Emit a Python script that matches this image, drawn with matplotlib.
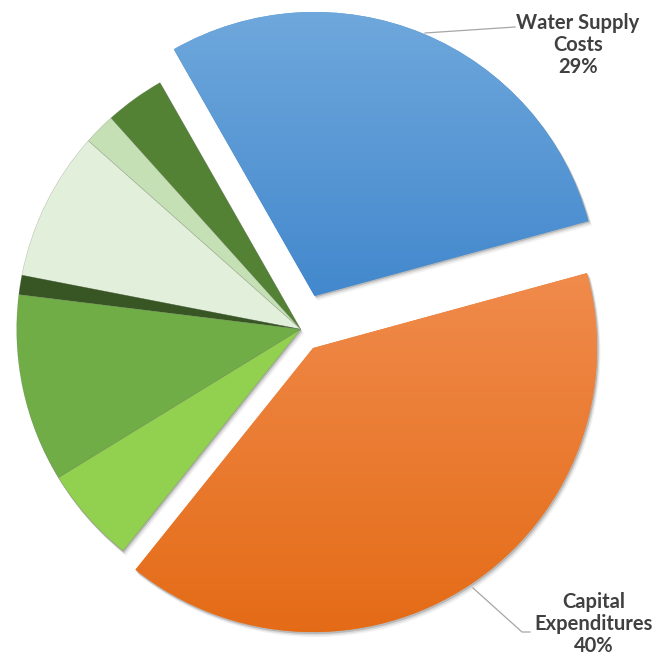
import numpy as np
import matplotlib.pyplot as plt
from matplotlib.patches import Wedge
from matplotlib.colors import LinearSegmentedColormap

# Cost breakdown (percent of total)
categories = ["Water Supply Costs", "Other 1", "Other 2", "Other 3",
              "Other 4", "Other 5", "Other 6", "Capital Expenditures"]
shares = [29, 3.4, 1.8, 8.5, 1.1, 10.7, 5.5, 40]
slice_colors = ["#5b9bd5", "#548235", "#c5e0b4", "#e2efda",
                "#375623", "#70ad47", "#92d050", "#ed7d31"]
explode = [0.127, 0, 0, 0, 0, 0, 0, 0.079]   # fraction of the radius
labelled = {0: "Water Supply\nCosts\n29%", 7: "Capital\nExpenditures\n40%"}

W, H = 666, 656
fig = plt.figure(figsize=(W / 100, H / 100), dpi=100)
ax = fig.add_axes([0, 0, 1, 1])

cx, cy, R = 300.7, H - 329.3, 284

wedges, _ = ax.pie(shares, colors=slice_colors,
                   explode=[e * R for e in explode],
                   startangle=15.3, counterclock=True,
                   center=(cx, cy), radius=R, frame=True,
                   wedgeprops=dict(linewidth=0.4, edgecolor=(0.35, 0.4, 0.3, 0.35)))
ax.set_xlim(0, W)
ax.set_ylim(0, H)
ax.set_aspect("equal")
ax.axis("off")

# soft drop shadow beneath each group of slices
groups = [(wedges[0].center, wedges[0].theta1, wedges[0].theta2),
          (wedges[1].center, wedges[1].theta1, wedges[6].theta2),
          (wedges[7].center, wedges[7].theta1, wedges[7].theta2)]
for (c, t1, t2) in groups:
    for off, a in [((1.0, -1.5), 0.16), ((2.0, -3.0), 0.09), ((3.0, -4.5), 0.05)]:
        sh = Wedge((c[0] + off[0], c[1] + off[1]), R + 0.5, t1, t2,
                   facecolor="black", alpha=a, linewidth=0, zorder=0)
        ax.add_patch(sh)

# vertical colour gradients on the two highlighted slices
grads = {0: ("#6fa8dc", "#4388cd"), 7: ("#f08b4c", "#e46b16")}
for i, (top, bottom) in grads.items():
    w = wedges[i]
    verts = w.get_path().vertices
    x0, x1 = verts[:, 0].min(), verts[:, 0].max()
    y0, y1 = verts[:, 1].min(), verts[:, 1].max()
    cmap = LinearSegmentedColormap.from_list("g%d" % i, [bottom, top])
    grad = np.linspace(0, 1, 256).reshape(-1, 1)
    im = ax.imshow(grad, cmap=cmap, extent=(x0, x1, y0, y1), origin="lower",
                   aspect="auto", zorder=w.get_zorder() + 0.1)
    im.set_clip_path(w)
    w.set_edgecolor("none")
ax.set_xlim(0, W)
ax.set_ylim(0, H)

txt = dict(fontsize=14.5, fontweight="bold", color="#404040", family="Lato",
           ha="center", va="center", linespacing=1.15)

# leader lines
lc = dict(color="#a6a6a6", linewidth=0.9, zorder=5)
ax.plot([425, 515], [H - 33, H - 27], **lc)
ax.plot([473, 522, 530], [H - 588, H - 632, H - 632], **lc)

ax.text(578, H - 45, labelled[0], **txt)
ax.text(594, H - 624, labelled[7], **txt)

fig.savefig("out.png", dpi=100)
